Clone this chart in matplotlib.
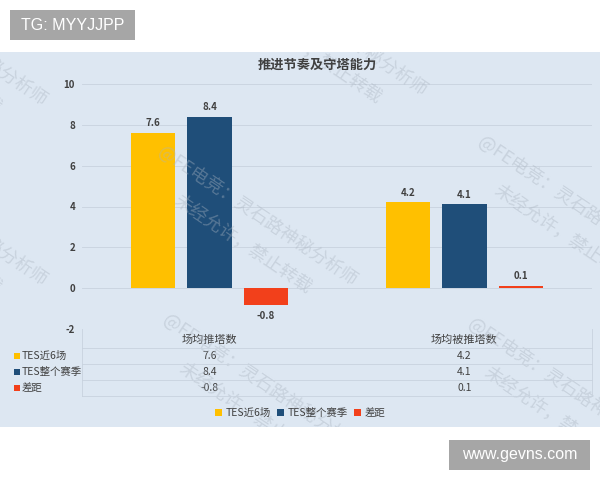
import numpy as np
import matplotlib
matplotlib.use('Agg')
import matplotlib.pyplot as plt
from matplotlib.patches import Rectangle
from matplotlib.lines import Line2D
from matplotlib.transforms import blended_transform_factory

plt.rcParams['font.family'] = ['Noto Sans CJK SC', 'DejaVu Sans']
plt.rcParams['axes.unicode_minus'] = False

# 数据
categories = ['场均推塔数', '场均被推塔数']
series_names = ['TES近6场', 'TES整个赛季', '差距']
recent6 = [7.6, 4.2]
season = [8.4, 4.1]
diff = [-0.8, 0.1]

colors = ['#FFC000', '#1F4E79', '#F2401B']
panel = '#DDE7F2'
txt = '#404040'

W, H = 600, 480


def fx(px):
    return px / W


def fy(py):
    return 1 - py / H


fig = plt.figure(figsize=(6, 4.8), dpi=100)
fig.patch.set_facecolor('white')

# 浅蓝底板 (zorder 要低于坐标轴)
fig.patches.append(Rectangle((0, fy(427)), 1, (427 - 52) / H, transform=fig.transFigure,
                             facecolor=panel, edgecolor='none', zorder=-10))

# 角落的灰色标签
for (x0, y0, x1, y1, s) in [(10, 10, 135, 40, 'TG: MYYJJPP'), (449, 440, 590, 470, 'www.gevns.com')]:
    fig.patches.append(Rectangle((fx(x0), fy(y1)), (x1 - x0) / W, (y1 - y0) / H,
                                 transform=fig.transFigure, facecolor='#A6A6A6',
                                 edgecolor='none', zorder=-5))
    fig.text(fx((x0 + x1) / 2), fy((y0 + y1) / 2), s, ha='center', va='center',
             color='white', fontsize=11.5, family='Liberation Sans')

# 主图
ax = fig.add_axes([fx(82), fy(329), 510 / W, (329 - 84) / H])
ax.set_facecolor('none')
x = np.arange(len(categories))
width = 0.173
step = 0.222
handles = []
for i, (name, vals, col) in enumerate(zip(series_names, [recent6, season, diff], colors)):
    bars = ax.bar(x + (i - 1) * step, vals, width, color=col, label=name, zorder=3)
    handles.append(bars)
    for b, v in zip(bars, vals):
        ax.annotate(f'{v:.1f}', (b.get_x() + b.get_width() / 2, v),
                    xytext=(0, 3.5 if v >= 0 else -4.5), textcoords='offset points',
                    ha='center', va='bottom' if v >= 0 else 'top',
                    fontsize=7, fontweight='bold', color=txt)

ax.set_xlim(-0.5, 1.5)
ax.set_ylim(-2, 10)
ax.set_yticks(range(-2, 11, 2))
ax.set_xticks([])
ax.grid(axis='y', color='#c8d2de', lw=0.6)
ax.set_axisbelow(True)
for s in ax.spines.values():
    s.set_visible(False)
ax.tick_params(axis='y', length=0, pad=5, labelsize=7, labelcolor=txt)
for t in ax.get_yticklabels():
    t.set_fontweight('bold')

fig.text(fx(317), fy(65), '推进节奏及守塔能力', ha='center', va='center',
         fontsize=9.5, fontweight='bold', color=txt)

# 数据表
tr = blended_transform_factory(ax.transData, fig.transFigure)
for j, cat in enumerate(categories):
    ax.text(x[j], fy(340), cat, transform=tr, ha='center', va='center', fontsize=8, color=txt)
row_y = [356, 372, 388]
for vals, yy in zip([recent6, season, diff], row_y):
    for j, v in enumerate(vals):
        ax.text(x[j], fy(yy), f'{v:.1f}', transform=tr, ha='center', va='center',
                fontsize=7.5, color=txt)
for name, col, yy in zip(series_names, colors, row_y):
    fig.patches.append(Rectangle((fx(14), fy(yy + 3)), 6 / W, 6 / H, transform=fig.transFigure,
                                 facecolor=col, edgecolor='none'))
    fig.text(fx(22), fy(yy), name, ha='left', va='center', fontsize=7.5, color=txt)

line_c = '#c8d2de'
for yy in [348, 364, 380, 396]:
    fig.add_artist(Line2D([fx(82), fx(592)], [fy(yy), fy(yy)], color=line_c, lw=0.6))
for xx in [82, 592]:
    fig.add_artist(Line2D([fx(xx), fx(xx)], [fy(329), fy(396)], color=line_c, lw=0.6))

# 图例
fig.legend(handles, series_names, loc='center', bbox_to_anchor=(fx(300), fy(413)), ncol=3,
           frameon=False, fontsize=7.5, handlelength=0.7, handleheight=0.7,
           handletextpad=0.3, columnspacing=0.6, labelcolor=txt)

# 水印
wax = fig.add_axes([0, fy(427), 1, (427 - 52) / H])
wax.set_xlim(0, W)
wax.set_ylim(427, 52)
wax.axis('off')
ang = np.deg2rad(34)
d = np.array([np.cos(ang), np.sin(ang)])
p = np.array([-np.sin(ang), np.cos(ang)])
starts = [(160, 150), (480, 140), (165, 318), (470, 322), (-150, -30), (230, -40),
          (-150, 150), (540, -40)]
for sx, sy in starts:
    s0 = np.array([sx, sy], dtype=float)
    s1 = s0 + 40 * d + 32 * p
    for pos, s in [(s0, '@FE电竞：灵石路神秘分析师'), (s1, '未经允许，禁止转载')]:
        wax.text(pos[0], pos[1], s, rotation=-34, rotation_mode='anchor', ha='left',
                 va='center', fontsize=13, color='#aab4c0', alpha=0.4, clip_on=True)

fig.savefig('out.png', dpi=100)
